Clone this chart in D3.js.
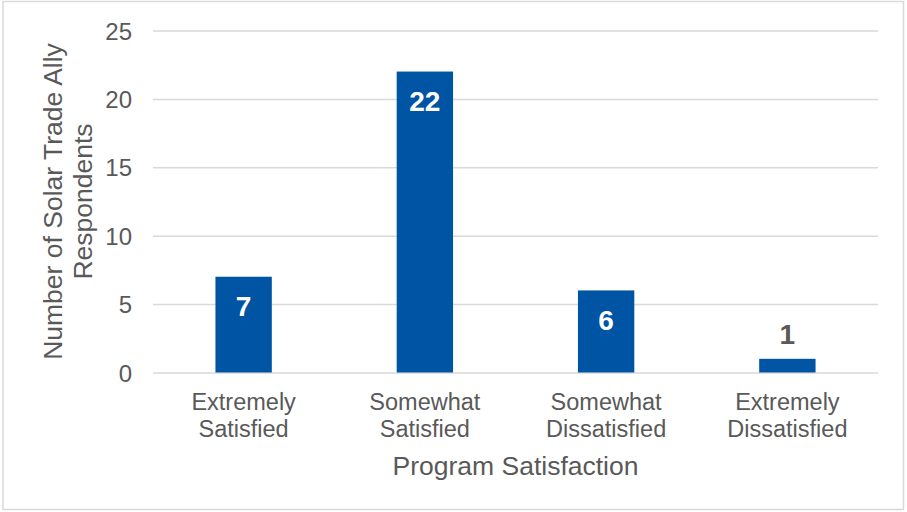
<!DOCTYPE html>
<html>
<head>
<meta charset="utf-8">
<script src="https://cdn.jsdelivr.net/npm/d3@7"></script>
<style>
  html, body { margin: 0; padding: 0; background: #ffffff; }
  svg { display: block; font-family: "Liberation Sans", Arial, sans-serif; }
</style>
</head>
<body>
<svg id="chart" width="907" height="512"></svg>
<script>
// Survey results: solar trade ally satisfaction with the program
const categories = [
  ["Extremely", "Satisfied"],
  ["Somewhat", "Satisfied"],
  ["Somewhat", "Dissatisfied"],
  ["Extremely", "Dissatisfied"]
];
const respondents = [7, 22, 6, 1];
const yTicks = [0, 5, 10, 15, 20, 25];
const xTitle = "Program Satisfaction";
const yTitle = ["Number of Solar Trade Ally", "Respondents"];

const W = 907, H = 512;
const plot = { left: 153, right: 878, top: 30.5, bottom: 372.5 };
const blue = "#0054a4";
const textGray = "#595959";
const gridGray = "#d9d9d9";

const svg = d3.select("#chart");

// outer frame
svg.append("rect")
  .attr("x", 3).attr("y", 1.5)
  .attr("width", 900.5).attr("height", 508)
  .attr("fill", "#ffffff")
  .attr("stroke", gridGray)
  .attr("stroke-width", 1.5);

const keys = categories.map(c => c.join(" "));
const x = d3.scaleBand().domain(keys).range([plot.left, plot.right]).padding(0);
const y = d3.scaleLinear().domain([0, 25]).range([plot.bottom, plot.top]);
const barW = x.bandwidth() * 0.311;

// horizontal gridlines and value ticks
const yAxis = d3.axisLeft(y)
  .tickValues(yTicks)
  .tickSize(-(plot.right - plot.left))
  .tickPadding(21)
  .tickFormat(d3.format("d"));

const gy = svg.append("g")
  .attr("transform", `translate(${plot.left},0)`)
  .call(yAxis);
gy.select(".domain").remove();
gy.selectAll(".tick line").attr("stroke", gridGray).attr("stroke-width", 1.5);
gy.selectAll(".tick text")
  .attr("fill", textGray)
  .attr("font-size", "24px")
  .attr("font-family", "'Liberation Sans', Arial, sans-serif")
  .attr("dy", "0.36em");

// bars
svg.append("g").selectAll("rect")
  .data(respondents)
  .join("rect")
  .attr("x", (d, i) => x(keys[i]) + (x.bandwidth() - barW) / 2)
  .attr("y", d => y(d))
  .attr("width", barW)
  .attr("height", d => y(0) - y(d))
  .attr("fill", blue);

// value labels: inside the top of tall bars, above short ones
svg.append("g").selectAll("text")
  .data(respondents)
  .join("text")
  .attr("x", (d, i) => x(keys[i]) + x.bandwidth() / 2)
  .attr("y", d => (y(0) - y(d) > 40) ? y(d) + 39.5 : y(d) - 15)
  .attr("text-anchor", "middle")
  .attr("font-weight", "bold")
  .attr("font-size", "28px")
  .attr("fill", d => (y(0) - y(d) > 40) ? "#ffffff" : textGray)
  .text(d => d);

// category labels (two lines each)
const cat = svg.append("g").selectAll("text")
  .data(categories)
  .join("text")
  .attr("text-anchor", "middle")
  .attr("font-size", "23.5px")
  .attr("fill", textGray);
cat.each(function (lines, i) {
  const t = d3.select(this);
  lines.forEach((ln, j) => {
    t.append("tspan")
      .attr("x", x(keys[i]) + x.bandwidth() / 2)
      .attr("y", 409.5 + j * 27.5)
      .text(ln);
  });
});

// axis titles
svg.append("text")
  .attr("x", (plot.left + plot.right) / 2)
  .attr("y", 475)
  .attr("text-anchor", "middle")
  .attr("font-size", "26.5px")
  .attr("fill", textGray)
  .text(xTitle);

const yt = svg.append("text")
  .attr("transform", `translate(0,${(plot.top + plot.bottom) / 2}) rotate(-90)`)
  .attr("text-anchor", "middle")
  .attr("font-size", "26.5px")
  .attr("fill", textGray);
yTitle.forEach((ln, j) => {
  yt.append("tspan").attr("x", 0).attr("y", 61.5 + j * 30).text(ln);
});
</script>
</body>
</html>
